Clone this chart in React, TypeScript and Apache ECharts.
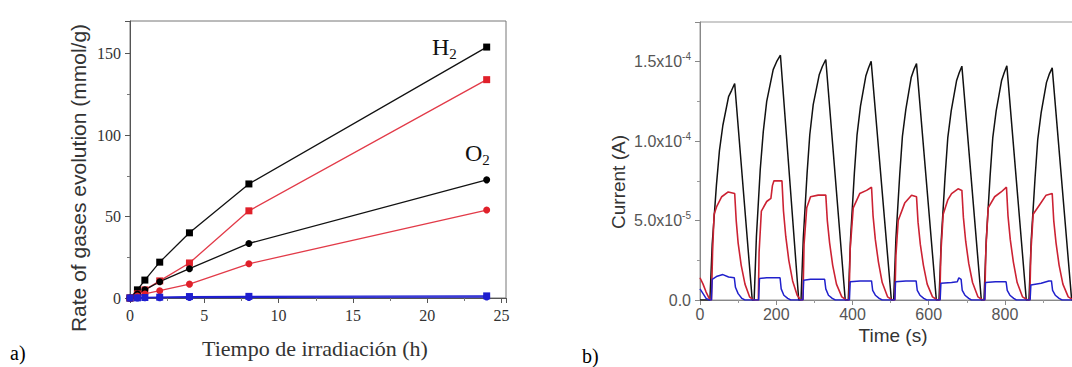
import React, { useEffect, useRef } from 'react';
import * as echarts from 'echarts';

// ---------- Panel a data ----------
const hoursA = [0, 0.5, 1, 2, 4, 8, 24];
const h2Black = [0, 5, 11, 22, 40, 70, 154];
const h2Red = [0, 2.5, 5, 10.5, 21.5, 53.5, 134];
const o2Black = [0, 2.5, 5, 10, 18, 33.5, 72.5];
const o2Red = [0, 1.2, 2.5, 4.5, 8.5, 21, 54];
const h2Blue = [0, 0.1, 0.3, 0.5, 0.9, 1.0, 1.3];
const o2Blue = [0, 0.05, 0.1, 0.2, 0.3, 0.4, 0.6];
const xTicksA = [0, 5, 10, 15, 20, 25];
const yTicksA = [0, 50, 100, 150];

// ---------- Panel b data (time s, current A) ----------
const blackCurrent: number[][] = [
  [0, 0], [26, 0], [32, 3.5e-5], [43, 7.2e-5], [51, 9.4e-5], [60, 1.1e-4], [75, 1.28e-4], [83, 1.32e-4], [91, 1.363e-4], [137, 0],
  [142, 0], [148, 4.0e-5], [158, 8.2e-5], [166, 1.06e-4], [175, 1.25e-4], [192, 1.45e-4], [201, 1.5e-4], [211, 1.541e-4], [259, 0],
  [265, 0], [271, 3.9e-5], [281, 8.0e-5], [288, 1.04e-4], [297, 1.23e-4], [313, 1.42e-4], [321, 1.47e-4], [330, 1.514e-4], [381, 0],
  [389, 0], [395, 3.9e-5], [405, 8.0e-5], [412, 1.04e-4], [421, 1.22e-4], [435, 1.41e-4], [442, 1.46e-4], [449, 1.503e-4], [502, 0],
  [508, 0], [514, 3.9e-5], [524, 7.9e-5], [531, 1.03e-4], [540, 1.2e-4], [554, 1.4e-4], [561, 1.45e-4], [568, 1.488e-4], [620, 0],
  [627, 0], [633, 3.8e-5], [643, 7.8e-5], [650, 1.02e-4], [659, 1.19e-4], [673, 1.38e-4], [680, 1.43e-4], [687, 1.472e-4], [738, 0],
  [745, 0], [751, 3.8e-5], [761, 7.8e-5], [768, 1.02e-4], [777, 1.19e-4], [791, 1.38e-4], [798, 1.43e-4], [805, 1.474e-4], [856, 0],
  [863, 0], [869, 3.8e-5], [879, 7.7e-5], [886, 1.01e-4], [895, 1.18e-4], [909, 1.37e-4], [916, 1.42e-4], [924, 1.461e-4], [975, 0],
  [981, 0], [987, 3.8e-5],
];
const redCurrent: number[][] = [
  [0, 1.4e-5], [8, 1.0e-5], [16, 5e-6], [24, 1e-6], [30, 0],
  [31, 0], [33, 3.0e-5], [37, 5.4e-5], [44, 5.9e-5], [57, 6.5e-5], [74, 6.8e-5], [91, 6.7e-5], [95, 5.0e-5], [100, 3.6e-5], [108, 2.2e-5], [118, 1.0e-5], [130, 2e-6], [140, 0],
  [153, 0], [155, 3.0e-5], [161, 5.6e-5], [175, 6.2e-5], [186, 6.4e-5], [190, 7.2e-5], [194, 7.5e-5], [215, 7.5e-5], [219, 5.6e-5], [225, 4.0e-5], [233, 2.5e-5], [243, 1.2e-5], [255, 3e-6], [264, 0],
  [270, 0], [273, 3.5e-5], [280, 5.8e-5], [290, 6.5e-5], [310, 6.6e-5], [330, 6.6e-5], [334, 5.0e-5], [340, 3.6e-5], [348, 2.2e-5], [358, 1.0e-5], [372, 2e-6], [384, 0],
  [391, 0], [394, 3.2e-5], [402, 5.8e-5], [419, 6.7e-5], [437, 6.9e-5], [450, 7.1e-5], [454, 5.3e-5], [460, 3.8e-5], [468, 2.4e-5], [478, 1.1e-5], [492, 2e-6], [505, 0],
  [511, 0], [514, 2.8e-5], [520, 5.0e-5], [537, 6.1e-5], [555, 6.6e-5], [568, 6.5e-5], [572, 4.9e-5], [578, 3.5e-5], [586, 2.2e-5], [596, 1.0e-5], [610, 2e-6], [623, 0],
  [629, 0], [632, 3.0e-5], [638, 5.4e-5], [650, 6.3e-5], [660, 6.7e-5], [677, 7.0e-5], [687, 6.9e-5], [691, 5.2e-5], [697, 3.7e-5], [705, 2.3e-5], [715, 1.1e-5], [729, 2e-6], [742, 0],
  [747, 0], [750, 3.2e-5], [756, 5.8e-5], [773, 6.5e-5], [790, 6.8e-5], [804, 7.1e-5], [808, 5.3e-5], [814, 3.8e-5], [822, 2.4e-5], [832, 1.1e-5], [846, 2e-6], [860, 0],
  [865, 0], [868, 3.0e-5], [874, 5.4e-5], [891, 6.0e-5], [908, 6.6e-5], [924, 6.7e-5], [928, 5.0e-5], [934, 3.6e-5], [942, 2.2e-5], [952, 1.0e-5], [966, 2e-6], [980, 0],
];
const blueCurrent: number[][] = [
  [0, 7e-6], [8, 4e-6], [16, 1e-6], [24, 0],
  [30, 0], [32, 1.3e-5], [45, 1.5e-5], [60, 1.6e-5], [75, 1.45e-5], [90, 1.4e-5], [93, 8e-6], [100, 4e-6], [110, 1e-6], [118, 0],
  [154, 0], [156, 1.35e-5], [175, 1.4e-5], [210, 1.4e-5], [213, 7e-6], [220, 3e-6], [230, 1e-6], [238, 0],
  [270, 0], [272, 1.25e-5], [290, 1.3e-5], [327, 1.3e-5], [330, 7e-6], [337, 3e-6], [347, 1e-6], [355, 0],
  [392, 0], [394, 1.15e-5], [420, 1.2e-5], [450, 1.2e-5], [453, 6e-6], [460, 3e-6], [470, 1e-6], [478, 0],
  [511, 0], [513, 1.15e-5], [540, 1.2e-5], [567, 1.2e-5], [570, 6e-6], [577, 3e-6], [587, 1e-6], [595, 0],
  [630, 0], [632, 1.05e-5], [660, 1.1e-5], [675, 1.15e-5], [679, 1.4e-5], [685, 1.3e-5], [688, 6e-6], [695, 3e-6], [705, 1e-6], [712, 0],
  [747, 0], [749, 1.1e-5], [775, 1.15e-5], [803, 1.15e-5], [806, 6e-6], [813, 3e-6], [823, 1e-6], [830, 0],
  [866, 0], [868, 9.5e-6], [895, 1.05e-5], [915, 1.2e-5], [922, 1.2e-5], [925, 6e-6], [932, 3e-6], [942, 1e-6], [950, 0],
  [990, 0],
];
const xTicksB = [0, 200, 400, 600, 800];
const yTicksB = [0, 5e-5, 1e-4, 1.5e-4];
const yLabelsB = [['0.0', ''], ['5.0x10', '-5'], ['1.0x10', '-4'], ['1.5x10', '-4']];

const SERIF = '"Liberation Serif", "DejaVu Serif", serif';
const SANS = '"Liberation Sans", Arial, sans-serif';

function pick(ticks: number[], v: number, tol: number) {
  return ticks.findIndex((t) => Math.abs(t - v) < tol);
}

export default function App() {
  const ref = useRef<HTMLDivElement>(null);
  useEffect(() => {
    if (!ref.current) return;
    const chart = echarts.init(ref.current, undefined, { renderer: 'svg' });
    const pairs = (ys: number[]) => hoursA.map((x, i) => [x, ys[i]]);
    const aSeries = (name: string, ys: number[], color: string, lineColor: string, symbol: string) => ({
      name,
      type: 'line',
      xAxisIndex: 0,
      yAxisIndex: 0,
      data: pairs(ys),
      symbol,
      symbolSize: 7,
      showSymbol: true,
      clip: false,
      lineStyle: { color: lineColor, width: 1.3 },
      itemStyle: { color, borderWidth: 0 },
    });
    const bSeries = (name: string, data: number[][], color: string, width: number) => ({
      name,
      type: 'line',
      xAxisIndex: 1,
      yAxisIndex: 1,
      data,
      showSymbol: false,
      symbol: 'none',
      clip: true,
      lineStyle: { color, width },
    });
    const option: any = {
      animation: false,
      backgroundColor: '#ffffff',
      grid: [
        { left: 130, top: 21, width: 376, height: 277, show: true, borderColor: '#777', borderWidth: 1, outerBoundsMode: 'none', containLabel: false },
        { left: 700, top: 22, width: 385, height: 278, show: true, borderColor: '#999', borderWidth: 1, outerBoundsMode: 'none', containLabel: false },
      ],
      xAxis: [
        {
          type: 'value', gridIndex: 0, min: 0, max: 25.3, interval: 5,
          axisLine: { show: true, onZero: false, lineStyle: { color: '#555', width: 1 } },
          axisTick: { show: true, length: 5, lineStyle: { color: '#555' } },
          minorTick: { show: true, splitNumber: 2, length: 3, lineStyle: { color: '#777' } },
          splitLine: { show: false },
          axisLabel: {
            margin: 9, color: '#333', fontFamily: SERIF, fontSize: 16,
            formatter: (v: number) => (pick(xTicksA, v, 1e-6) >= 0 ? String(v) : ''),
          },
        },
        {
          type: 'value', gridIndex: 1, min: 0, max: 1010, interval: 200,
          axisLine: { show: true, onZero: false, lineStyle: { color: '#888', width: 1 } },
          axisTick: { show: true, length: 5, lineStyle: { color: '#888' } },
          minorTick: { show: true, splitNumber: 2, length: 3, lineStyle: { color: '#999' } },
          splitLine: { show: false },
          axisLabel: {
            margin: 6, color: '#555', fontFamily: SANS, fontSize: 16,
            formatter: (v: number) => (pick(xTicksB, v, 1e-6) >= 0 ? String(v) : ''),
          },
        },
      ],
      yAxis: [
        {
          type: 'value', gridIndex: 0, min: 0, max: 170, interval: 50,
          axisLine: { show: true, onZero: false, lineStyle: { color: '#555', width: 1 } },
          axisTick: { show: true, length: 5, lineStyle: { color: '#555' } },
          minorTick: { show: true, splitNumber: 2, length: 3, lineStyle: { color: '#777' } },
          splitLine: { show: false },
          axisLabel: {
            margin: 9, color: '#333', fontFamily: SERIF, fontSize: 16,
            formatter: (v: number) => (pick(yTicksA, v, 1e-6) >= 0 ? String(v) : ''),
          },
        },
        {
          type: 'value', gridIndex: 1, min: 0, max: 1.75e-4, interval: 5e-5,
          axisLine: { show: true, onZero: false, lineStyle: { color: '#888', width: 1 } },
          axisTick: { show: true, length: 5, lineStyle: { color: '#888' } },
          minorTick: { show: true, splitNumber: 2, length: 3, lineStyle: { color: '#999' } },
          splitLine: { show: false },
          axisLabel: {
            margin: 9,
            formatter: (v: number) => {
              const i = pick(yTicksB, v, 1e-9);
              if (i < 0) return '';
              const [m, e] = yLabelsB[i];
              return e ? `{b|${m}}{sup|${e}}` : `{b|${m}}`;
            },
            rich: {
              b: { fontSize: 16, lineHeight: 20, color: '#555', fontFamily: SANS },
              sup: { fontSize: 10, lineHeight: 10, verticalAlign: 'top', color: '#555', fontFamily: SANS },
            },
          },
        },
      ],
      series: [
        aSeries('H2 black', h2Black, '#000000', '#111111', 'rect'),
        aSeries('H2 red', h2Red, '#e0202a', '#e23a48', 'rect'),
        aSeries('O2 black', o2Black, '#000000', '#111111', 'circle'),
        aSeries('O2 red', o2Red, '#e0202a', '#e23a48', 'circle'),
        aSeries('H2 blue', h2Blue, '#1f1fcf', '#1f1fcf', 'rect'),
        aSeries('O2 blue', o2Blue, '#1f1fcf', '#1f1fcf', 'circle'),
        bSeries('black', blackCurrent, '#111111', 1.5),
        bSeries('red', redCurrent, '#cc2233', 1.6),
        bSeries('blue', blueCurrent, '#2020cc', 1.5),
      ],
      graphic: [
        {
          type: 'text', x: 78, y: 178, rotation: Math.PI / 2,
          style: { text: 'Rate of gases evolution (mmol/g)', font: `21px ${SANS}`, fill: '#333', align: 'center', verticalAlign: 'middle' },
        },
        {
          type: 'text', x: 315, y: 348,
          style: { text: 'Tiempo de irradiación (h)', font: `22px ${SERIF}`, fill: '#333', align: 'center', verticalAlign: 'middle' },
        },
        {
          type: 'text', x: 618, y: 182, rotation: Math.PI / 2,
          style: { text: 'Current (A)', font: `19px ${SANS}`, fill: '#333', align: 'center', verticalAlign: 'middle' },
        },
        {
          type: 'text', x: 893, y: 335,
          style: { text: 'Time (s)', font: `19px ${SANS}`, fill: '#333', align: 'center', verticalAlign: 'middle' },
        },
        {
          type: 'text', x: 432, y: 47,
          style: {
            text: '{m|H}{s|2}', align: 'left', verticalAlign: 'middle',
            rich: {
              m: { font: `24px ${SERIF}`, lineHeight: 28, fill: '#111' },
              s: { font: `15px ${SERIF}`, lineHeight: 12, verticalAlign: 'bottom', fill: '#111' },
            },
          },
        },
        {
          type: 'text', x: 465, y: 153,
          style: {
            text: '{m|O}{s|2}', align: 'left', verticalAlign: 'middle',
            rich: {
              m: { font: `24px ${SERIF}`, lineHeight: 28, fill: '#111' },
              s: { font: `15px ${SERIF}`, lineHeight: 12, verticalAlign: 'bottom', fill: '#111' },
            },
          },
        },
        {
          type: 'text', x: 10, y: 353,
          style: { text: 'a)', font: `20px ${SERIF}`, fill: '#000', align: 'left', verticalAlign: 'middle' },
        },
        {
          type: 'text', x: 582, y: 356,
          style: { text: 'b)', font: `20px ${SERIF}`, fill: '#000', align: 'left', verticalAlign: 'middle' },
        },
      ],
    };
    chart.setOption(option);
    return () => chart.dispose();
  }, []);
  return (
    <div
      ref={ref}
      style={{ position: 'fixed', left: 0, top: 0, width: 1072, height: 367, background: '#fff' }}
    />
  );
}
